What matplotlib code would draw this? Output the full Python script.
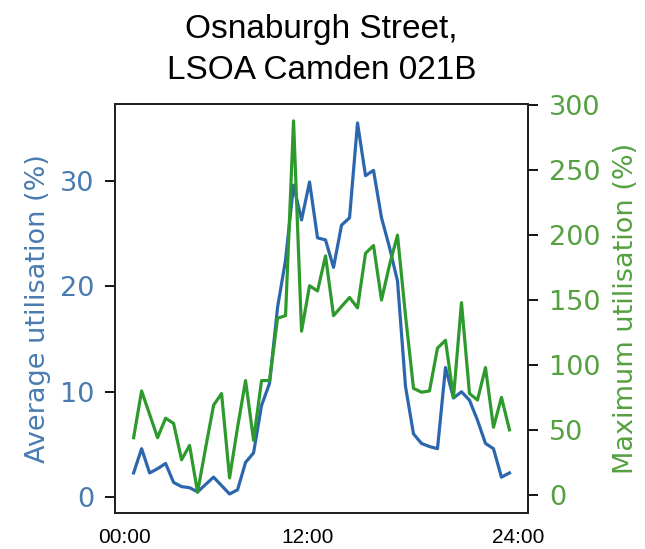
import numpy as np
import matplotlib as mpl
mpl.use("Agg")
import matplotlib.pyplot as plt

# half-hourly slots over the day
avg_util = [2.3, 4.6, 2.3, 2.7, 3.2, 1.4, 1.0, 0.9, 0.5, 1.2,
            1.9, 1.1, 0.3, 0.7, 3.3, 4.2, 8.7, 10.8, 18.0, 22.5,
            29.6, 26.3, 29.9, 24.6, 24.4, 21.8, 25.8, 26.5, 35.5, 30.5,
            31.0, 26.5, 23.7, 20.5, 10.5, 6.0, 5.1, 4.8, 4.6, 12.3,
            9.4, 10.0, 9.2, 7.3, 5.1, 4.6, 1.9, 2.3]
max_util = [44, 80, 62, 44, 59, 55, 27, 38, 2, 36,
            69, 78, 13, 52, 88, 42, 88, 88, 136, 138,
            288, 126, 161, 157, 184, 138, 145, 152, 144, 186,
            192, 150, 177, 200, 138, 82, 79, 80, 113, 119,
            75, 148, 78, 73, 98, 52, 75, 50]
xtick_pos = [-1.1, 21.8, 48.1]
xtick_labels = ["00:00", "12:00", "24:00"]
title = "Osnaburgh Street,\nLSOA Camden 021B"

blue = "#2c67ae"
blue_txt = "#4a7bb0"
green = "#2e9a2e"
green_txt = "#55a040"

slots = np.arange(len(avg_util))

fig = plt.figure(figsize=(6.45, 5.49), dpi=100)
ax = fig.add_axes([0.178, 0.0656, 0.641, 0.745])
ax2 = ax.twinx()

ax.plot(slots, avg_util, color=blue, lw=2.3)
ax2.plot(slots, max_util, color=green, lw=2.3)

ax.set_ylim(-1.5, 37.3)
ax2.set_ylim(-14, 301)
ax.set_yticks([0, 10, 20, 30])
ax2.set_yticks([0, 50, 100, 150, 200, 250, 300])

ax.set_xticks(xtick_pos)
ax.set_xticklabels(xtick_labels, family="Liberation Sans", fontsize=15)
ax.tick_params(axis="x", length=0, pad=11)

ax.tick_params(axis="y", labelsize=19.5, labelcolor=blue_txt, length=7,
               width=1.3, pad=8)
ax2.tick_params(axis="y", labelsize=19.5, labelcolor=green_txt, length=7,
                width=1.3, pad=8)

ax.set_ylabel("Average utilisation (%)", color=blue_txt, fontsize=19.5, labelpad=6)
ax2.set_ylabel("Maximum utilisation (%)", color=green_txt, fontsize=19.5, labelpad=9)

for a in (ax, ax2):
    for s in a.spines.values():
        s.set_linewidth(1.4)
        s.set_color("#222222")

ax.set_title(title, family="Liberation Sans", fontsize=24, pad=18,
             linespacing=1.4)

fig.savefig("out.png", dpi=100)
